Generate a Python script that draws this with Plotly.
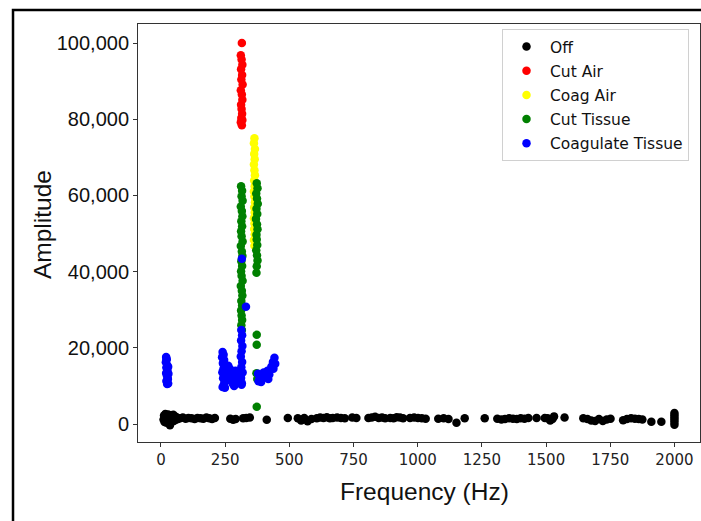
import plotly.graph_objects as go

# ---------------- data ----------------
off_x = [10, 12, 14, 15, 17, 18, 20, 22, 23, 25, 27, 28, 30, 32, 34, 35, 37, 38, 40, 42, 44, 46, 48, 50, 52, 55, 58, 62, 66,
         74, 85, 96, 107, 119, 131, 142, 154, 165, 177, 188, 199, 210,
         270, 281, 291, 320, 332, 346,
         412, 494,
         533, 546, 558, 571, 586, 607, 620, 633, 646, 658, 669, 686, 701, 716, 745, 761,
         808, 821, 834, 848, 861, 873, 893, 906, 918, 931, 943, 970, 986, 1001, 1016, 1031,
         1080, 1101, 1120, 1151, 1183, 1261,
         1310, 1326, 1340, 1356, 1371, 1386, 1401, 1416, 1431, 1463,
         1495, 1506, 1516, 1525, 1531, 1572,
         1645, 1661, 1676, 1691, 1706, 1721, 1736, 1751,
         1800, 1815, 1831, 1846, 1861, 1875, 1910, 1949,
         2000, 2000, 2000, 2000, 2000, 2000]
off_y = [1200, 2200, 500, 1800, 2600, 900, 1500, 300, 2100, 1000, 1700, 2500, 600, 1300, 2000, -300, 1100, 2300, 1600, 700, 1900, 1200, 2400, 800, 1500, 2000, 1100, 1700, 1300,
         1500, 1700, 1400, 1600, 1500, 1300, 1600, 1500, 1400, 1700, 1500, 1300, 1600,
         1400, 1100, 1300, 1500, 1600, 1700,
         1100, 1600,
         1500, 900, 1600, 700, 1300, 1500, 1700, 1600, 1800, 1500, 1600, 1700, 1600, 1500, 1700, 1600,
         1600, 1700, 1900, 1600, 1700, 1500, 1600, 1500, 1800, 1700, 1500, 1600, 1700, 1600, 1500, 1400,
         1400, 1500, 1300, 300, 1500, 1500,
         1400, 1200, 1300, 1500, 1400, 1300, 1500, 1400, 1600, 1600,
         1600, 1500, 900, 1300, 2000, 1700,
         1500, 1300, 900, 800, 1300, 800, 1200, 1400,
         1000, 1300, 1500, 1400, 1300, 1200, 600, 600,
         2900, 2300, 1700, 1100, 500, -200]

cutair_x = [315, 311, 314, 317, 312, 316, 313, 318, 311, 315, 317, 312, 314, 316, 313, 311, 315, 317]
cutair_y = [100000, 96800, 95700, 94300, 93100, 91600, 90400, 89100, 87600, 86500, 85100, 83800, 82700, 81400, 80300, 79200, 78400, 79800]

coagair_x = [364, 362, 366, 363, 365, 362, 364, 366, 363, 365, 362, 364, 366, 363, 365, 362, 364, 363, 365, 362, 364]
coagair_y = [75000, 73700, 72200, 70900, 69500, 68100, 66600, 65300, 63900, 62400, 61000, 59700, 58200, 56800, 55500, 54000, 52600, 51200, 49800, 48300, 46800]

cuttis_x = [312, 316, 314, 318, 311, 315, 317, 313, 316, 312, 314, 318, 311, 315, 317, 313, 316, 312, 314, 318, 311, 315, 317, 313, 316, 312, 314, 316, 313, 315,
            373, 376, 371, 374, 377, 372, 375, 370, 374, 376, 372, 373, 375, 371, 374, 376, 373, 372,
            373, 373, 372, 375, 373]
cuttis_y = [62400, 61200, 59800, 58600, 57100, 55900, 54500, 53200, 51900, 50600, 49300, 47900, 46700, 45300, 44100, 42700, 41500, 40100, 38900, 37600, 36200, 35000, 33700, 32300, 31100, 29800, 28500, 27300, 25900, 24700,
            63200, 61900, 60500, 59200, 57800, 56500, 55100, 53800, 52400, 51100, 49700, 48400, 47000, 45600, 44300, 42900, 41400, 39700,
            23400, 20800, 13300, 11800, 4500]

coagtis_x = [20, 22, 19, 24, 21, 25, 20, 23, 26, 21, 28, 27, 29, 28, 24, 22,
             240, 244, 238, 246, 241, 248, 243, 239, 247, 242, 250, 245, 240, 249, 243,
             262, 268, 275, 282, 265, 272, 279, 285, 263, 270, 277, 284,
             290, 295, 300, 292, 298,
             313, 316, 312, 317, 314, 311, 316, 313, 318, 312, 315, 314,
             315, 331,
             378, 384, 390, 395, 380, 400, 408, 415, 422, 418, 430, 436, 442, 445, 438]
coagtis_y = [17600, 16900, 16200, 15500, 14800, 14100, 13400, 12700, 12000, 11300, 10600, 11800, 13200, 15000, 10500, 17000,
             18900, 18200, 17500, 16800, 16000, 15200, 14400, 13600, 12800, 12000, 11200, 10400, 9700, 9500, 15800,
             15300, 14500, 13800, 13000, 12200, 11400, 10600, 10000, 13600, 12600, 11700, 10800,
             14000, 13200, 12400, 11600, 11000,
             24700, 23300, 21900, 20500, 19100, 17700, 16300, 14900, 13500, 12100, 10700, 10300,
             43400, 30800,
             13200, 12000, 11000, 12800, 11200, 13500, 12500, 14000, 13000, 11800, 15000, 16300, 17400, 15800, 14500]

series_names = ["Off", "Cut Air", "Coag Air", "Cut Tissue", "Coagulate Tissue"]
series_colors = ["#000000", "#ff0000", "#ffff00", "#008000", "#0000ff"]
series_x = [off_x, cutair_x, coagair_x, cuttis_x, coagtis_x]
series_y = [off_y, cutair_y, coagair_y, cuttis_y, coagtis_y]

x_ticks = [0, 250, 500, 750, 1000, 1250, 1500, 1750, 2000]
y_ticks = [0, 20000, 40000, 60000, 80000, 100000]
x_title = "Frequency (Hz)"
y_title = "Amplitude"

# ---------------- figure ----------------
fig = go.Figure()
for name, col, xs, ys in zip(series_names, series_colors, series_x, series_y):
    fig.add_trace(go.Scatter(x=xs, y=ys, mode="markers", name=name, legendgroup=name,
                             marker=dict(color=col, size=8.5, line=dict(width=0))))

axis_line = "#333333"
title_font = dict(family="Liberation Sans", size=24.5, color="#111111")
fig.update_layout(
    width=701, height=521,
    margin=dict(l=138, r=1, t=24, b=79),
    paper_bgcolor="white", plot_bgcolor="white",
    showlegend=True,
    legend=dict(x=0.6477, y=0.988, xanchor="left", yanchor="top",
                bordercolor="#d0d0d0", borderwidth=1, bgcolor="white",
                font=dict(family="DejaVu Sans", size=15.5, color="#111111"),
                itemwidth=37, tracegroupgap=1, traceorder="grouped"),
    xaxis=dict(range=[-89.5, 2099.5], tickvals=x_ticks, showgrid=False, zeroline=False,
               showline=True, linecolor=axis_line, linewidth=1, mirror=True,
               ticks="outside", ticklen=4, tickcolor=axis_line,
               tickfont=dict(family="DejaVu Sans", size=15, color="#222222")),
    yaxis=dict(range=[-4725, 104990], tickvals=y_ticks, tickformat=",", showgrid=False, zeroline=False,
               showline=True, linecolor=axis_line, linewidth=1, mirror=True,
               ticks="outside", ticklen=4, tickcolor=axis_line,
               tickfont=dict(family="Liberation Sans", size=20, color="#111111")),
    annotations=[
        dict(text=x_title, xref="paper", yref="paper", x=0.509, y=-0.1196,
             xanchor="center", yanchor="middle", showarrow=False, font=title_font),
        dict(text=y_title, xref="paper", yref="paper", x=-0.1708, y=0.519, textangle=-90,
             xanchor="center", yanchor="middle", showarrow=False, font=title_font),
    ],
    shapes=[dict(type="rect", xref="paper", yref="paper",
                 x0=-0.2224, x1=1.03, y0=-0.25, y1=1.0335,
                 line=dict(color="black", width=2.5), fillcolor="rgba(0,0,0,0)", layer="above")],
)

fig.write_html("out.html", config={"displayModeBar": False},
               post_script="document.body.style.margin='0px';")
